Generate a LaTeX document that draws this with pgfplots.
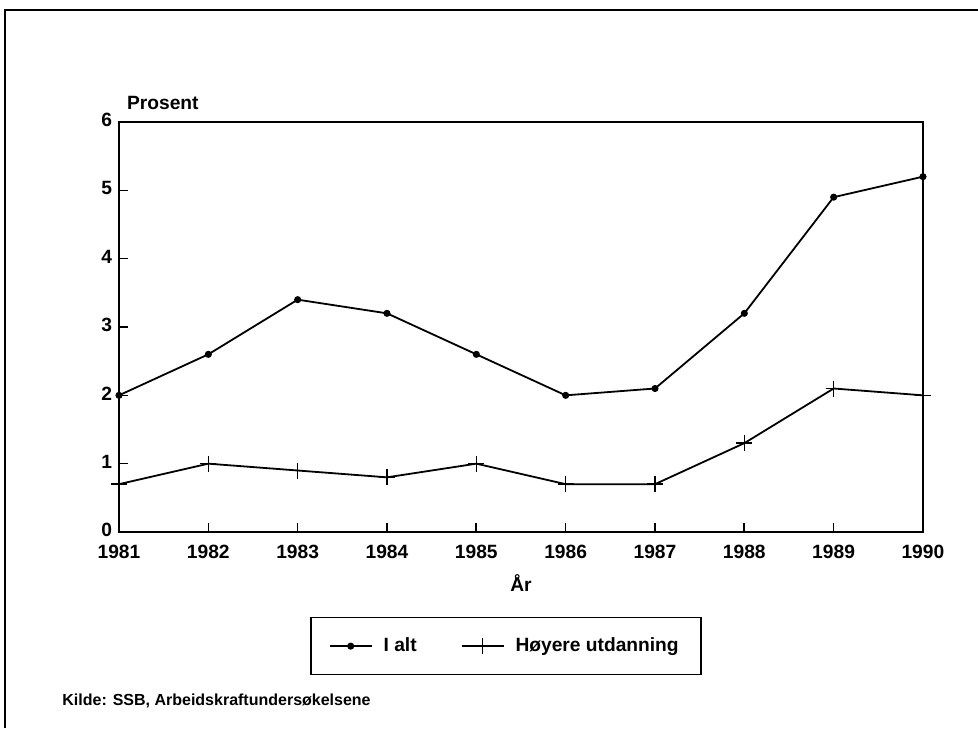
\documentclass[border=0pt]{standalone}
\usepackage{fontspec}
\setmainfont{Liberation Sans}
\usepackage{pgfplots}
\pgfplotsset{compat=1.18}
\newcommand\lbl{\bfseries\fontsize{9.6}{11}\selectfont}
\begin{document}
\begin{tikzpicture}
\useasboundingbox (0,0) rectangle (489pt,364pt);
\fill[white] (0,0) rectangle (489pt,364pt);
% outer frame (cut by the page edge)
\draw[line width=1.1pt] (2.5pt,0) -- (2.5pt,359pt) -- (489pt,359pt);
\begin{axis}[
    at={(59.5pt,98pt)}, anchor=south west,
    scale only axis, width=402pt, height=205pt,
    xmin=1981, xmax=1990, ymin=0, ymax=6,
    xtick={1981,...,1990}, ytick={0,...,6},
    tick pos=left, tick align=inside,
    major tick length=4.5pt,
    axis line style={line width=0.8pt},
    every tick/.style={black, line width=0.8pt},
    /pgf/number format/assume math mode=true,
    /pgf/number format/1000 sep={},
    tick label style={font=\lbl},
    xticklabel style={yshift=-3pt},
    yticklabel style={yshift=1pt},
    xlabel={År},
    every axis x label/.style={at={(rel axis cs:0.5,-0.1244)}, anchor=center, font=\lbl},
    ylabel={Prosent},
    every axis y label/.style={at={(rel axis cs:0,1)}, anchor=base west, yshift=6.5pt, xshift=0.5pt, font=\lbl},
    clip=false,
    legend columns=2,
    legend style={at={(rel axis cs:0.2376,-0.207)}, anchor=north west,
        draw=black, line width=0.8pt, font=\lbl,
        inner xsep=9pt, inner ysep=8pt,
        /tikz/every odd column/.append style={column sep=3.5pt},
        /tikz/every even column/.append style={column sep=20pt}},
    legend image code/.code={\draw[#1, mark repeat=2, mark phase=2]
        plot coordinates {(0pt,0pt) (10.5pt,0pt) (21pt,0pt)};},
    every axis plot/.append style={black, line width=0.9pt},
]
\addplot[mark=*, mark size=1.3pt] coordinates {
    (1981,2.0) (1982,2.6) (1983,3.4) (1984,3.2) (1985,2.6)
    (1986,2.0) (1987,2.1) (1988,3.2) (1989,4.9) (1990,5.2)
};
\addplot[mark=+, mark size=4pt, mark options={line width=0.8pt}] coordinates {
    (1981,0.7) (1982,1.0) (1983,0.9) (1984,0.8) (1985,1.0)
    (1986,0.7) (1987,0.7) (1988,1.3) (1989,2.1) (1990,2.0)
};
\legend{I alt, Høyere utdanning}
\end{axis}
\node[anchor=base west, inner sep=0pt, font=\bfseries\fontsize{8}{9.5}\selectfont] at (31pt,11.5pt) {Kilde: SSB, Arbeidskraftundersøkelsene};
\end{tikzpicture}
\end{document}
